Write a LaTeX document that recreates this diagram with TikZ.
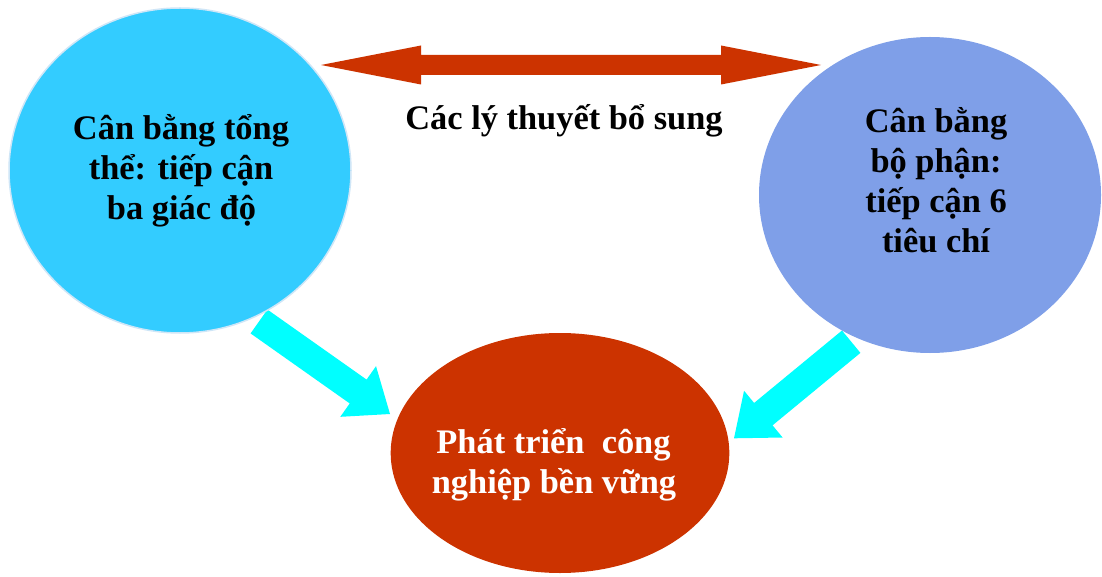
\documentclass[tikz,border=0pt]{standalone}
\usepackage{fontspec}
\setmainfont{Liberation Serif}
\usetikzlibrary{calc,shapes.geometric}
\definecolor{skyc}{HTML}{33CCFF}
\definecolor{skyedge}{HTML}{CFE6F7}
\definecolor{perib}{RGB}{127,159,232}
\definecolor{rust}{HTML}{CC3300}
\definecolor{aqua}{HTML}{00FFFF}
% #1 style, #2 tail, #3 tip, #4 shaft half width, #5 head half width, #6 head length
\newcommand\fatarr[6]{%
  \fill[#1] ($(#2)!#4!90:(#3)$) -- ($(#3)!#6!(#2)!#4!-90:(#2)$) -- ($(#3)!#6!(#2)!#5!-90:(#2)$)
    -- (#3) -- ($(#3)!#6!(#2)!#5!90:(#2)$) -- ($(#3)!#6!(#2)!#4!90:(#2)$)
    -- ($(#2)!#4!-90:(#3)$) -- cycle;}
\tikzset{
  blob/.style={ellipse, inner sep=0pt, outer sep=0pt},
  lbl/.style={anchor=base, inner sep=0pt, font=\fontsize{34.4}{40}\selectfont\bfseries},
  fat/.style={fill=aqua},
  dbl/.style={fill=rust},
}
\begin{document}
\begin{tikzpicture}[x=1pt,y=-1pt]
\fill[white] (0,0) rectangle (1102,577);
\useasboundingbox (0,0) rectangle (1102,577);

% connectors (under the shapes)
\coordinate (da1) at (321,65);
\coordinate (da2) at (821,65);
\fill[dbl] (da1) -- ($(da1)+(100,-19.5)$) -- ($(da1)+(100,-10)$) -- ($(da2)+(-100,-10)$)
  -- ($(da2)+(-100,-19.5)$) -- (da2) -- ($(da2)+(-100,19.5)$) -- ($(da2)+(-100,10)$)
  -- ($(da1)+(100,10)$) -- ($(da1)+(100,19.5)$) -- cycle;

\coordinate (ca1) at (259,321.5);
\coordinate (ca2) at (390,414);
\fatarr{fat}{ca1}{ca2}{14.6pt}{31pt}{39pt}
\coordinate (cb1) at (851.2,341.7);
\coordinate (cb2) at (734,438.3);
\fatarr{fat}{cb1}{cb2}{14.5pt}{30.3pt}{38pt}

% shapes
\node[blob, fill=skyc, draw=skyedge, line width=1.5pt, minimum width=342pt, minimum height=325pt] (L) at (180,170.5) {};
\node[blob, fill=perib, minimum width=342pt, minimum height=316pt] (R) at (930,195) {};
\node[blob, fill=rust, minimum width=338.6pt, minimum height=240pt] (B) at (560,453) {};

% texts
\node[lbl] (L1) at (181,139.3) {Cân bằng tổng};
\node[lbl] (L2) at (181,180) {thể: tiếp cận};
\node[lbl] (L3) at (181.5,220) {ba giác độ};
\node[lbl] (R1) at (936,132.7) {Cân bằng};
\node[lbl] (R2) at (936,172.7) {bộ phận:};
\node[lbl] (R3) at (936,212.7) {tiếp cận 6};
\node[lbl] (R4) at (936,252.7) {tiêu chí};
\node[lbl, text=white] (B1) at (553.5,453) {Phát triển\ \ công};
\node[lbl, text=white] (B2) at (554,493) {nghiệp bền vững};
\node[lbl] (M) at (564,129.3) {Các lý thuyết bổ sung};
\end{tikzpicture}
\end{document}
